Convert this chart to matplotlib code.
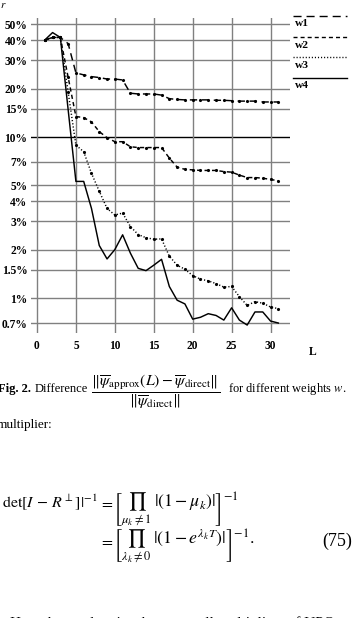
import matplotlib
matplotlib.use('Agg')
import matplotlib.pyplot as plt
from matplotlib.lines import Line2D
from matplotlib.ticker import NullLocator

plt.rcParams['font.family'] = ['Liberation Serif', 'DejaVu Serif']
plt.rcParams['mathtext.fontset'] = 'stix'

# ---------------- data ----------------
L = list(range(1, 32))
w1 = [40, 41.5, 41.5, 38, 25, 24.3, 23.7, 23.4, 22.9, 22.9, 22.6, 18.7, 18.5, 18.5, 18.5,
      18.2, 17.3, 17.1, 17.0, 17.0, 17.0, 17.0, 16.9, 16.9, 16.8, 16.7, 16.7, 16.7, 16.5, 16.5, 16.5]
w2 = [40, 41.5, 41.5, 23.5, 13.4, 13.2, 12.4, 10.8, 9.9, 9.35, 9.35, 8.7, 8.6, 8.6, 8.6,
      8.6, 7.4, 6.5, 6.3, 6.25, 6.2, 6.2, 6.2, 6.1, 6.05, 5.8, 5.6, 5.6, 5.55, 5.45, 5.35]
w3 = [40, 41.5, 41.5, 19, 8.9, 8.1, 5.95, 4.6, 3.6, 3.28, 3.37, 2.78, 2.48, 2.37, 2.32,
      2.33, 1.82, 1.60, 1.51, 1.38, 1.31, 1.28, 1.23, 1.17, 1.18, 1.02, 0.90, 0.95, 0.93, 0.88, 0.86]
w4 = [40, 44.5, 41.5, 14.8, 5.3, 5.3, 3.6, 2.12, 1.75, 2.0, 2.47, 1.9, 1.53, 1.48, 1.6,
      1.74, 1.18, 0.97, 0.92, 0.74, 0.76, 0.8, 0.78, 0.73, 0.87, 0.73, 0.68, 0.82, 0.82, 0.72, 0.70]
series_names = ['w1', 'w2', 'w3', 'w4']
x_ticks = [0, 5, 10, 15, 20, 25, 30]
y_ticks = [0.7, 1, 1.5, 2, 3, 4, 5, 7, 10, 15, 20, 30, 40, 50]
y_tick_labels = ['0.7%', '1%', '1.5%', '2%', '3%', '4%', '5%', '7%', '10%',
                 '15%', '20%', '30%', '40%', '50%']

# ---------------- figure ----------------
W, H = 356, 618
fig = plt.figure(figsize=(W / 100, H / 100), dpi=100)
fig.patch.set_facecolor('white')


def fx(px):
    return px / W


def fy(py):
    return 1 - py / H


ax = fig.add_axes([fx(31), fy(333), fx(290) - fx(31), fy(18) - fy(333)])
ax.set_xlim(-0.77, 32.5)
ax.set_yscale('log')
ax.set_ylim(0.607, 54.8)
for s in ax.spines.values():
    s.set_visible(False)
ax.set_xticks(x_ticks)
ax.set_yticks(y_ticks)
ax.set_yticklabels(y_tick_labels)
ax.yaxis.set_minor_locator(NullLocator())
ax.xaxis.set_minor_locator(NullLocator())
ax.tick_params(length=0, labelsize=8.3)
ax.tick_params(axis='y', pad=2.5)
ax.tick_params(axis='x', pad=5.0)
for lab in ax.get_xticklabels() + ax.get_yticklabels():
    lab.set_fontweight('bold')

grid_gray = '#808080'
for v in y_ticks:
    ax.axhline(v, color='black' if v == 10 else grid_gray, lw=1.0, zorder=1)
for v in x_ticks:
    ax.axvline(v, color=grid_gray, lw=1.0, zorder=1)

styles = {
    'w1': dict(dashes=(5.0, 3.2)),
    'w2': dict(dashes=(2.9, 2.2)),
    'w3': dict(dashes=(0.8, 1.4)),
    'w4': dict(linestyle='-'),
}
data = {'w1': w1, 'w2': w2, 'w3': w3, 'w4': w4}
for name in series_names:
    kw = dict(color='black', lw=1.05, zorder=3)
    kw.update(styles[name])
    if name != 'w4':
        kw.update(marker='.', markersize=2.5)
    ax.plot(L, data[name], **kw)

# legend drawn at the right
leg_y = [16, 37, 57, 78]
for name, yy in zip(series_names, leg_y):
    kw = dict(color='black', lw=1.0)
    kw.update(styles[name])
    if name == 'w1':
        kw['dashes'] = (5.8, 3.6)
    fig.add_artist(Line2D([fx(293), fx(347)], [fy(yy), fy(yy)],
                          transform=fig.transFigure, **kw))
    fig.text(fx(295), fy(yy + 8), name, ha='left', va='center',
             fontsize=8.2, fontweight='bold')

fig.text(fx(313), fy(352), 'L', ha='center', va='center', fontsize=8.5, fontweight='bold')

# partial glyph at the top-left corner
fig.text(fx(0.5), fy(5), r'$r$', ha='left', va='center', fontsize=8)

# ---------------- caption ----------------
fs_cap = 9
fig.text(fx(31), fy(389), 'Fig. 2.', ha='right', va='center', fontsize=fs_cap, fontweight='bold')
fig.text(fx(35), fy(389), 'Difference', ha='left', va='center', fontsize=fs_cap)
fig.text(fx(156), fy(391),
         r'$\dfrac{\Vert\overline{\psi}_{\mathrm{approx}}(L)-\overline{\psi}_{\mathrm{direct}}\Vert}'
         r'{\Vert\overline{\psi}_{\mathrm{direct}}\Vert}$',
         ha='center', va='center', fontsize=11.3)
fig.text(fx(228), fy(389), r'for different weights $w$.', ha='left', va='center', fontsize=fs_cap)

fig.text(fx(-3), fy(425), 'multiplier:', ha='left', va='center', fontsize=9.5)

# ---------------- equations ----------------
fs_eq = 11.5
fs_grp = 12.8
b1 = 507
b2 = 545
fig.text(fx(2), fy(b1), r'$\mathrm{det}[I\,-\,R^{\perp}]|^{-1}$', ha='left', va='baseline', fontsize=fs_eq)
fig.text(fx(99), fy(b1), r'$=$', ha='left', va='baseline', fontsize=fs_eq)
fig.text(fx(113.5), fy(b1), r'$\left[\prod_{\mu_k\neq1}\;|(1-\mu_k)|\right]^{-1}$',
         ha='left', va='baseline', fontsize=fs_grp)
fig.text(fx(99), fy(b2), r'$=$', ha='left', va='baseline', fontsize=fs_eq)
fig.text(fx(113.5), fy(b2), r'$\left[\prod_{\lambda_k\neq0}\;|(1-e^{\lambda_k T})|\right]^{-1}.$',
         ha='left', va='baseline', fontsize=fs_grp)
fig.text(fx(352), fy(546), '(75)', ha='right', va='baseline', fontsize=13)

# next body line, cut by the bottom edge
fig.text(fx(10), fy(627), 'Here the product is taken over all multipliers of UPOs with the',
         ha='left', va='baseline', fontsize=11)

fig.savefig('out.png', dpi=100, facecolor='white')
